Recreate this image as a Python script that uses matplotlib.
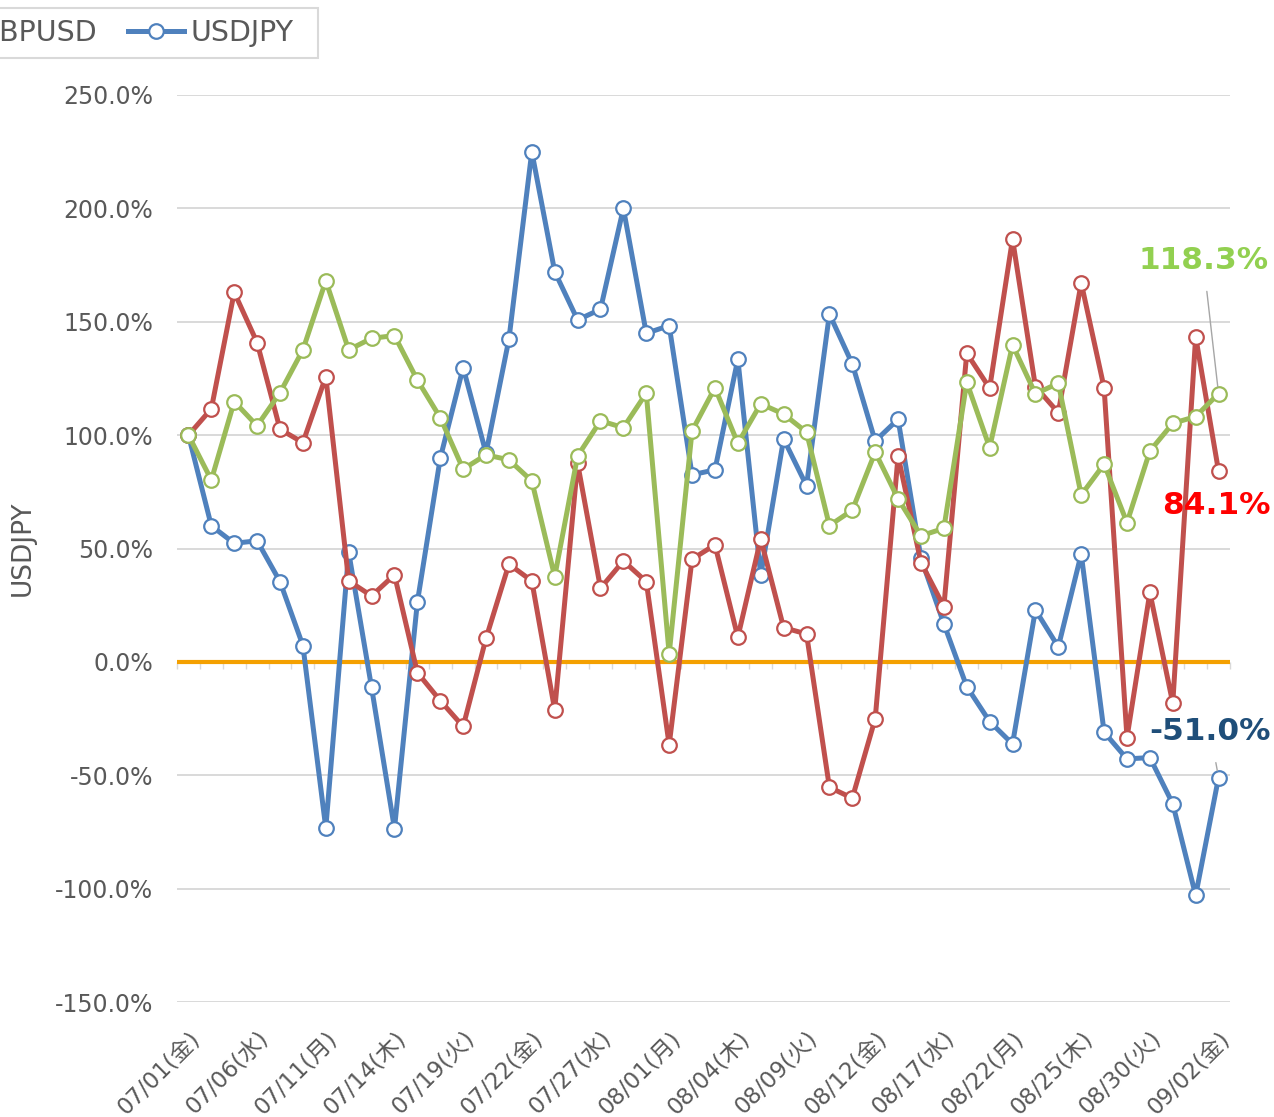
import numpy as np
import pandas as pd
import matplotlib
matplotlib.use("Agg")
import matplotlib.pyplot as plt
from matplotlib.patches import Rectangle
from matplotlib.ticker import FixedLocator, StrMethodFormatter

plt.rcParams["font.family"] = ["DejaVu Sans", "Noto Sans CJK JP"]
plt.rcParams["axes.unicode_minus"] = False

# ── data (% change) ───────────────────────────────────────────────────
DATES = pd.bdate_range("2022-07-01", "2022-09-02")
TICK_LABELS = ["07/01(金)", "07/06(水)", "07/11(月)", "07/14(木)", "07/19(火)",
               "07/22(金)", "07/27(水)", "08/01(月)", "08/04(木)", "08/09(火)",
               "08/12(金)", "08/17(水)", "08/22(月)", "08/25(木)", "08/30(火)",
               "09/02(金)"]

usdjpy = [100.0, 60.0, 52.3, 53.4, 35.4, 7.2, -73.3, 48.4, -11.3, -73.6,
          26.3, 89.8, 129.8, 92.0, 142.3, 225.0, 172.1, 150.8, 155.5, 200.0,
          144.9, 148.3, 82.5, 84.7, 133.5, 38.2, 98.3, 77.7, 153.4, 131.4,
          97.4, 107.0, 45.7, 16.8, -10.9, -26.3, -36.2, 22.9, 6.6, 47.6,
          -31.0, -42.8, -42.2, -62.6, -103.0, -51.0]
eurusd = [100.0, 111.6, 163.0, 140.8, 102.6, 96.7, 125.8, 35.7, 29.1, 38.4,
          -4.7, -17.1, -28.5, 10.4, 43.1, 35.7, -21.2, 87.6, 32.5, 44.5,
          35.4, -36.6, 45.3, 51.6, 10.9, 54.2, 15.1, 12.3, -55.3, -60.1,
          -25.1, 90.8, 43.8, 24.4, 136.1, 120.7, 186.5, 121.4, 109.9, 167.2,
          120.9, -33.4, 30.6, -18.2, 143.4, 84.1]
gbpusd = [100.0, 80.2, 114.8, 104.1, 118.7, 137.6, 168.1, 137.6, 142.7, 143.9,
          124.3, 107.7, 85.0, 91.3, 89.1, 79.8, 37.6, 90.8, 106.3, 103.3,
          118.5, 3.5, 101.9, 120.9, 96.4, 113.8, 109.3, 101.3, 60.1, 66.9,
          92.5, 71.9, 55.6, 58.9, 123.3, 94.5, 139.8, 118.2, 122.9, 73.6,
          87.2, 61.4, 93.0, 105.2, 108.2, 118.3]

BLUE, RED, GREEN = "#4F81BD", "#C0504D", "#9BBB59"
TEXT = "#595959"
GRID = "#D9D9D9"

W, H = 1274, 1117
fig = plt.figure(figsize=(W / 100, H / 100), dpi=100)
ax = fig.add_axes([177 / W, 1 - 1002 / H, 1053 / W, 907 / H])

x = np.arange(len(DATES))
series = [("USDJPY", usdjpy, BLUE), ("EURUSD", eurusd, RED), ("GBPUSD", gbpusd, GREEN)]
handles = {}
for name, vals, col in series:
    ln, = ax.plot(x, vals, color=col, lw=3.6, marker="o", ms=10.5,
                  mfc="white", mec=col, mew=1.6, zorder=3, label=name)
    handles[name] = ln

ax.axhline(0, color="#F4A000", lw=3, zorder=2)

ax.set_xlim(-0.5, len(DATES) - 0.5)
ax.set_ylim(-150, 250)
ax.set_yticks(np.arange(-150, 251, 50))
ax.yaxis.set_major_formatter(StrMethodFormatter("{x:.1f}%"))
ax.grid(axis="y", color=GRID, lw=1.4)
ax.set_axisbelow(True)
for s in ax.spines.values():
    s.set_visible(False)
ax.tick_params(axis="y", length=0, pad=17, labelsize=17, labelcolor=TEXT)

ax.set_xticks(x[::3])
ax.set_xticklabels(TICK_LABELS, rotation=45, ha="right", va="top",
                   rotation_mode="anchor")
ax.tick_params(axis="x", length=0, pad=18, labelsize=16.5, labelcolor=TEXT)

# small category ticks hanging under the zero line
sec = ax.secondary_xaxis(0, transform=ax.transData)
sec.xaxis.set_major_locator(FixedLocator(np.arange(-0.5, len(DATES), 1)))
sec.tick_params(axis="x", length=5, width=1, color=GRID, labelbottom=False)
sec.spines["bottom"].set_visible(False)

ax.set_ylabel("USDJPY", fontsize=19, color=TEXT)
ax.yaxis.set_label_coords(-0.134, 0.5)

# end-of-series labels
last = len(DATES) - 1
ax.annotate(f"{gbpusd[-1]:.1f}%", xy=(last, gbpusd[-1]), xytext=(-11, 96),
            textcoords="offset points", ha="center", va="center",
            fontsize=22.5, fontweight="bold", color="#92D050",
            arrowprops=dict(arrowstyle="-", color="#A6A6A6", lw=1,
                            shrinkA=10, shrinkB=5))
ax.annotate(f"{eurusd[-1]:.1f}%", xy=(last, eurusd[-1]), xytext=(-1.5, -25),
            textcoords="offset points", ha="center", va="center",
            fontsize=22.5, fontweight="bold", color="#FF0000")
ax.annotate(f"{usdjpy[-1]:.1f}%", xy=(last, usdjpy[-1]), xytext=(-6, 33),
            textcoords="offset points", ha="center", va="center",
            fontsize=22.5, fontweight="bold", color="#1F4E79",
            arrowprops=dict(arrowstyle="-", color="#A6A6A6", lw=1,
                            shrinkA=10, shrinkB=5))

# legend (runs off the left edge, as in the source chart)
leg = fig.legend([handles["EURUSD"], handles["GBPUSD"], handles["USDJPY"]],
                 ["EURUSD", "GBPUSD", "USDJPY"], loc="center right",
                 bbox_to_anchor=(293 / W, 1 - 33 / H), ncol=3,
                 fontsize=20.5, frameon=False, borderaxespad=0, borderpad=0,
                 handlelength=1.95, handletextpad=0.22, columnspacing=1.1)
for t in leg.get_texts():
    t.set_color(TEXT)
fig.add_artist(Rectangle((-10 / W, 1 - 58 / H), 328 / W, 50 / H,
                         transform=fig.transFigure, fill=False,
                         edgecolor=GRID, lw=1.5))

fig.savefig("out.png", dpi=100)
